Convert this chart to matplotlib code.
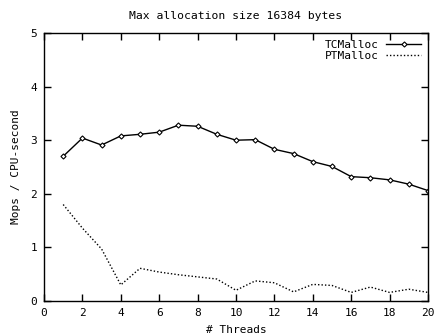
import matplotlib.pyplot as plt

# Throughput per thread count
threads = list(range(1, 21))
tcmalloc = [2.70, 3.04, 2.91, 3.08, 3.11, 3.15, 3.28, 3.26, 3.11, 3.00,
            3.01, 2.83, 2.75, 2.60, 2.51, 2.32, 2.30, 2.26, 2.18, 2.06]
ptmalloc = [1.80, 1.36, 0.97, 0.30, 0.61, 0.54, 0.49, 0.45, 0.41, 0.20,
            0.375, 0.34, 0.17, 0.31, 0.29, 0.16, 0.26, 0.16, 0.22, 0.16]

plt.rcParams['font.family'] = 'DejaVu Sans Mono'
plt.rcParams['font.size'] = 8

fig = plt.figure(figsize=(4.48, 3.36), dpi=100)
ax = fig.add_axes([44 / 448, 1 - 301 / 336, 384 / 448, 268 / 336])

ax.plot(threads, tcmalloc, color='black', lw=1, marker='D', ms=2.6,
        mfc='white', mec='black', mew=0.8, label='TCMalloc')
ax.plot(threads, ptmalloc, color='black', lw=1, ls=(0, (1, 1.5)),
        label='PTMalloc')

ax.set_xlim(0, 20)
ax.set_ylim(0, 5)
ax.set_xticks(range(0, 21, 2))
ax.set_yticks(range(0, 6))
ax.tick_params(direction='in', top=True, right=True, length=5, width=1,
               pad=5, labelsize=8)
for sp in ax.spines.values():
    sp.set_linewidth(1)

ax.set_title('Max allocation size 16384 bytes', fontsize=8.2, pad=10)
ax.set_xlabel('# Threads', fontsize=8, labelpad=5)
ax.set_ylabel('Mops / CPU-second', fontsize=8, labelpad=7)

ax.legend(loc='upper right', frameon=False, markerfirst=False,
          handlelength=3.2, handletextpad=0.6, labelspacing=0.1,
          borderaxespad=0.2, fontsize=8)

plt.savefig('out.png', dpi=100)
